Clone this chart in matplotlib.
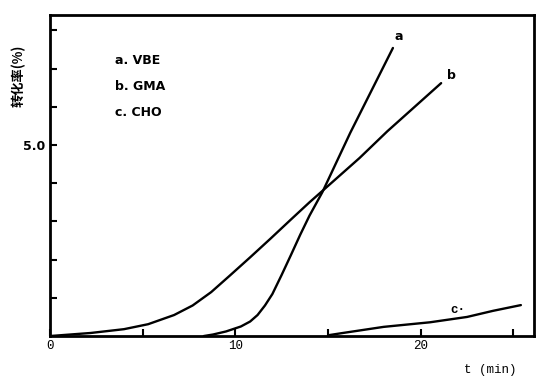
import numpy as np
import matplotlib.pyplot as plt

# conversion vs time
a_t = [8.3, 8.8, 9.5, 10.3, 10.8, 11.2, 11.6, 12.0, 12.5, 13.0, 13.5, 14.0, 14.7, 16.2, 18.5]
a_y = [0.0, 0.04, 0.12, 0.25, 0.38, 0.55, 0.8, 1.1, 1.6, 2.12, 2.65, 3.15, 3.77, 5.32, 7.54]
b_t = [0, 2.2, 4.0, 5.3, 6.7, 7.7, 8.7, 9.7, 10.8, 11.9, 13.0, 14.0, 14.7, 16.7, 18.2, 21.1]
b_y = [0, 0.08, 0.18, 0.31, 0.55, 0.8, 1.15, 1.58, 2.06, 2.55, 3.05, 3.5, 3.8, 4.66, 5.36, 6.62]
c_t = [15.0, 15.8, 18.0, 20.5, 22.5, 23.9, 25.4]
c_y = [0.02, 0.08, 0.24, 0.36, 0.5, 0.66, 0.81]

legend_lines = ['a. VBE', 'b. GMA', 'c. CHO']
xticks = [0, 5, 10, 15, 20, 25]
xticklabels = ['0', '', '10', '', '20', '']
yticks = [1, 2, 3, 4, 5, 6, 7, 8]
yticklabels = ['', '', '', '', '5.0', '', '', '']

fig = plt.figure(figsize=(5.36, 3.78), dpi=100)
ax = fig.add_axes([0.093, 0.111, 0.903, 0.849])

for t, y in [(a_t, a_y), (b_t, b_y), (c_t, c_y)]:
    ax.plot(t, y, color='black', lw=1.7, solid_capstyle='round', solid_joinstyle='round')

ax.set_xlim(0, 26.1)
ax.set_ylim(0, 8.4)
ax.set_xticks(xticks)
ax.set_xticklabels(xticklabels, family='Liberation Mono', fontsize=9)
ax.set_yticks(yticks)
ax.set_yticklabels(yticklabels, fontweight='bold', fontsize=9)
ax.tick_params(direction='in', length=5, width=1.5, pad=3)
for s in ax.spines.values():
    s.set_linewidth(2)

ax.text(18.6, 7.75, 'a', fontweight='bold', fontsize=9)
ax.text(21.4, 6.72, 'b', fontweight='bold', fontsize=9)
ax.text(21.6, 0.6, 'c·', fontweight='bold', fontsize=9, family='Liberation Mono')

for i, s in enumerate(legend_lines):
    ax.text(3.5, 7.2 - i * 0.68, s, fontweight='bold', fontsize=9, va='center')

fig.text(0.034, 0.80, '转化率(%)', rotation=90, fontsize=9.5, fontweight='bold',
         family=['Noto Sans CJK SC', 'DejaVu Sans'], va='center', ha='center')
fig.text(0.915, 0.012, 't (min)', family='Liberation Mono', fontsize=9, ha='center')

fig.savefig('out.png', dpi=100)
